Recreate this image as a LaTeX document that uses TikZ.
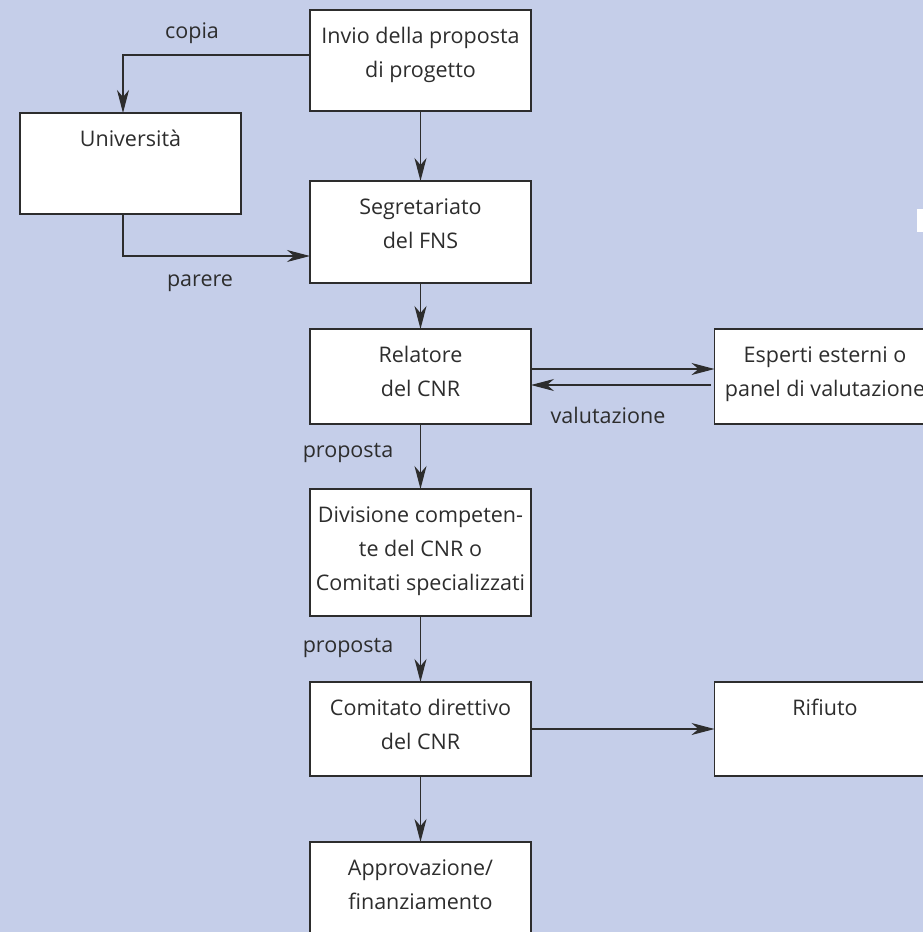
\documentclass[tikz,border=0pt]{standalone}
\usepackage{fontspec}
\setmainfont{Open Sans}
\usetikzlibrary{arrows.meta}
\definecolor{bgc}{RGB}{197,206,233}
\definecolor{ink}{RGB}{45,45,45}
\newcommand\boxtext[2]{\begin{minipage}[t][#1][t]{221pt}\centering\baselineskip=34pt\rule{0pt}{33.5pt}#2\par\end{minipage}}
\tikzset{
  flowbox/.style={draw=ink, line width=1.2pt, fill=white, rectangle, inner sep=0pt, outer sep=0pt, anchor=north, text=ink},
  arr/.style={draw=ink, line width=1.1pt, -{Stealth[length=23pt, width=12pt, inset=7pt]}},
  lbl/.style={text=ink, anchor=base, inner sep=0pt}
}
\begin{document}
\begin{tikzpicture}[x=1pt, y=-1pt, font=\fontsize{21.5pt}{34pt}\selectfont]
\useasboundingbox (0,0) rectangle (923,932);
\clip (0,0) rectangle (923,932);
\fill[bgc] (0,0) rectangle (923,932);
% small cut-off shape at right edge
\fill[white] (917,209) rectangle (930,232);

\node[flowbox] (inv) at (420.5,10) {\boxtext{101pt}{Invio della proposta\\di progetto}};
\node[flowbox] (uni) at (130.5,113) {\boxtext{101pt}{Università}};
\node[flowbox] (seg) at (420.5,181) {\boxtext{102pt}{Segretariato\\del FNS}};
\node[flowbox] (rel) at (420.5,329) {\boxtext{95pt}{Relatore\\del CNR}};
\node[flowbox] (esp) at (825,329) {\boxtext{95pt}{Esperti esterni o\\panel di valutazione}};
\node[flowbox] (div) at (420.5,489) {\boxtext{127pt}{Divisione competen-\\te del CNR o\\Comitati specializzati}};
\node[flowbox] (com) at (420.5,682) {\boxtext{94pt}{Comitato direttivo\\del CNR}};
\node[flowbox] (rif) at (825,682) {\boxtext{94pt}{Rifiuto}};
\node[flowbox] (app) at (420.5,842) {\boxtext{100pt}{Approvazione/\\finanziamento}};

\coordinate (c1) at (123,55);
\coordinate (c2) at (123,256);
\coordinate (c3) at (0,369);
\coordinate (c4) at (0,385);

\draw[arr] (inv.west |- c1) -- (c1) -- (c1 |- uni.north);
\draw[arr] (c2 |- uni.south) -- (c2) -- (c2 -| seg.west);
\draw[arr] (inv.south) -- (seg.north);
\draw[arr] (seg.south) -- (rel.north);
\draw[arr] (rel.south) -- (div.north);
\draw[arr] (div.south) -- (com.north);
\draw[arr] (com.south) -- (app.north);
\draw[arr] (rel.east |- c3) -- (esp.west |- c3);
\draw[arr] ([xshift=-4pt]esp.west |- c4) -- (rel.east |- c4);
\draw[arr] (com.east) -- (rif.west);

\node[lbl] (lcopia) at (192,38) {copia};
\node[lbl] (lparere) at (200,286) {parere};
\node[lbl] (lval) at (608,423) {valutazione};
\node[lbl] (lprop1) at (348,457) {proposta};
\node[lbl] (lprop2) at (348,652) {proposta};
\end{tikzpicture}
\end{document}
